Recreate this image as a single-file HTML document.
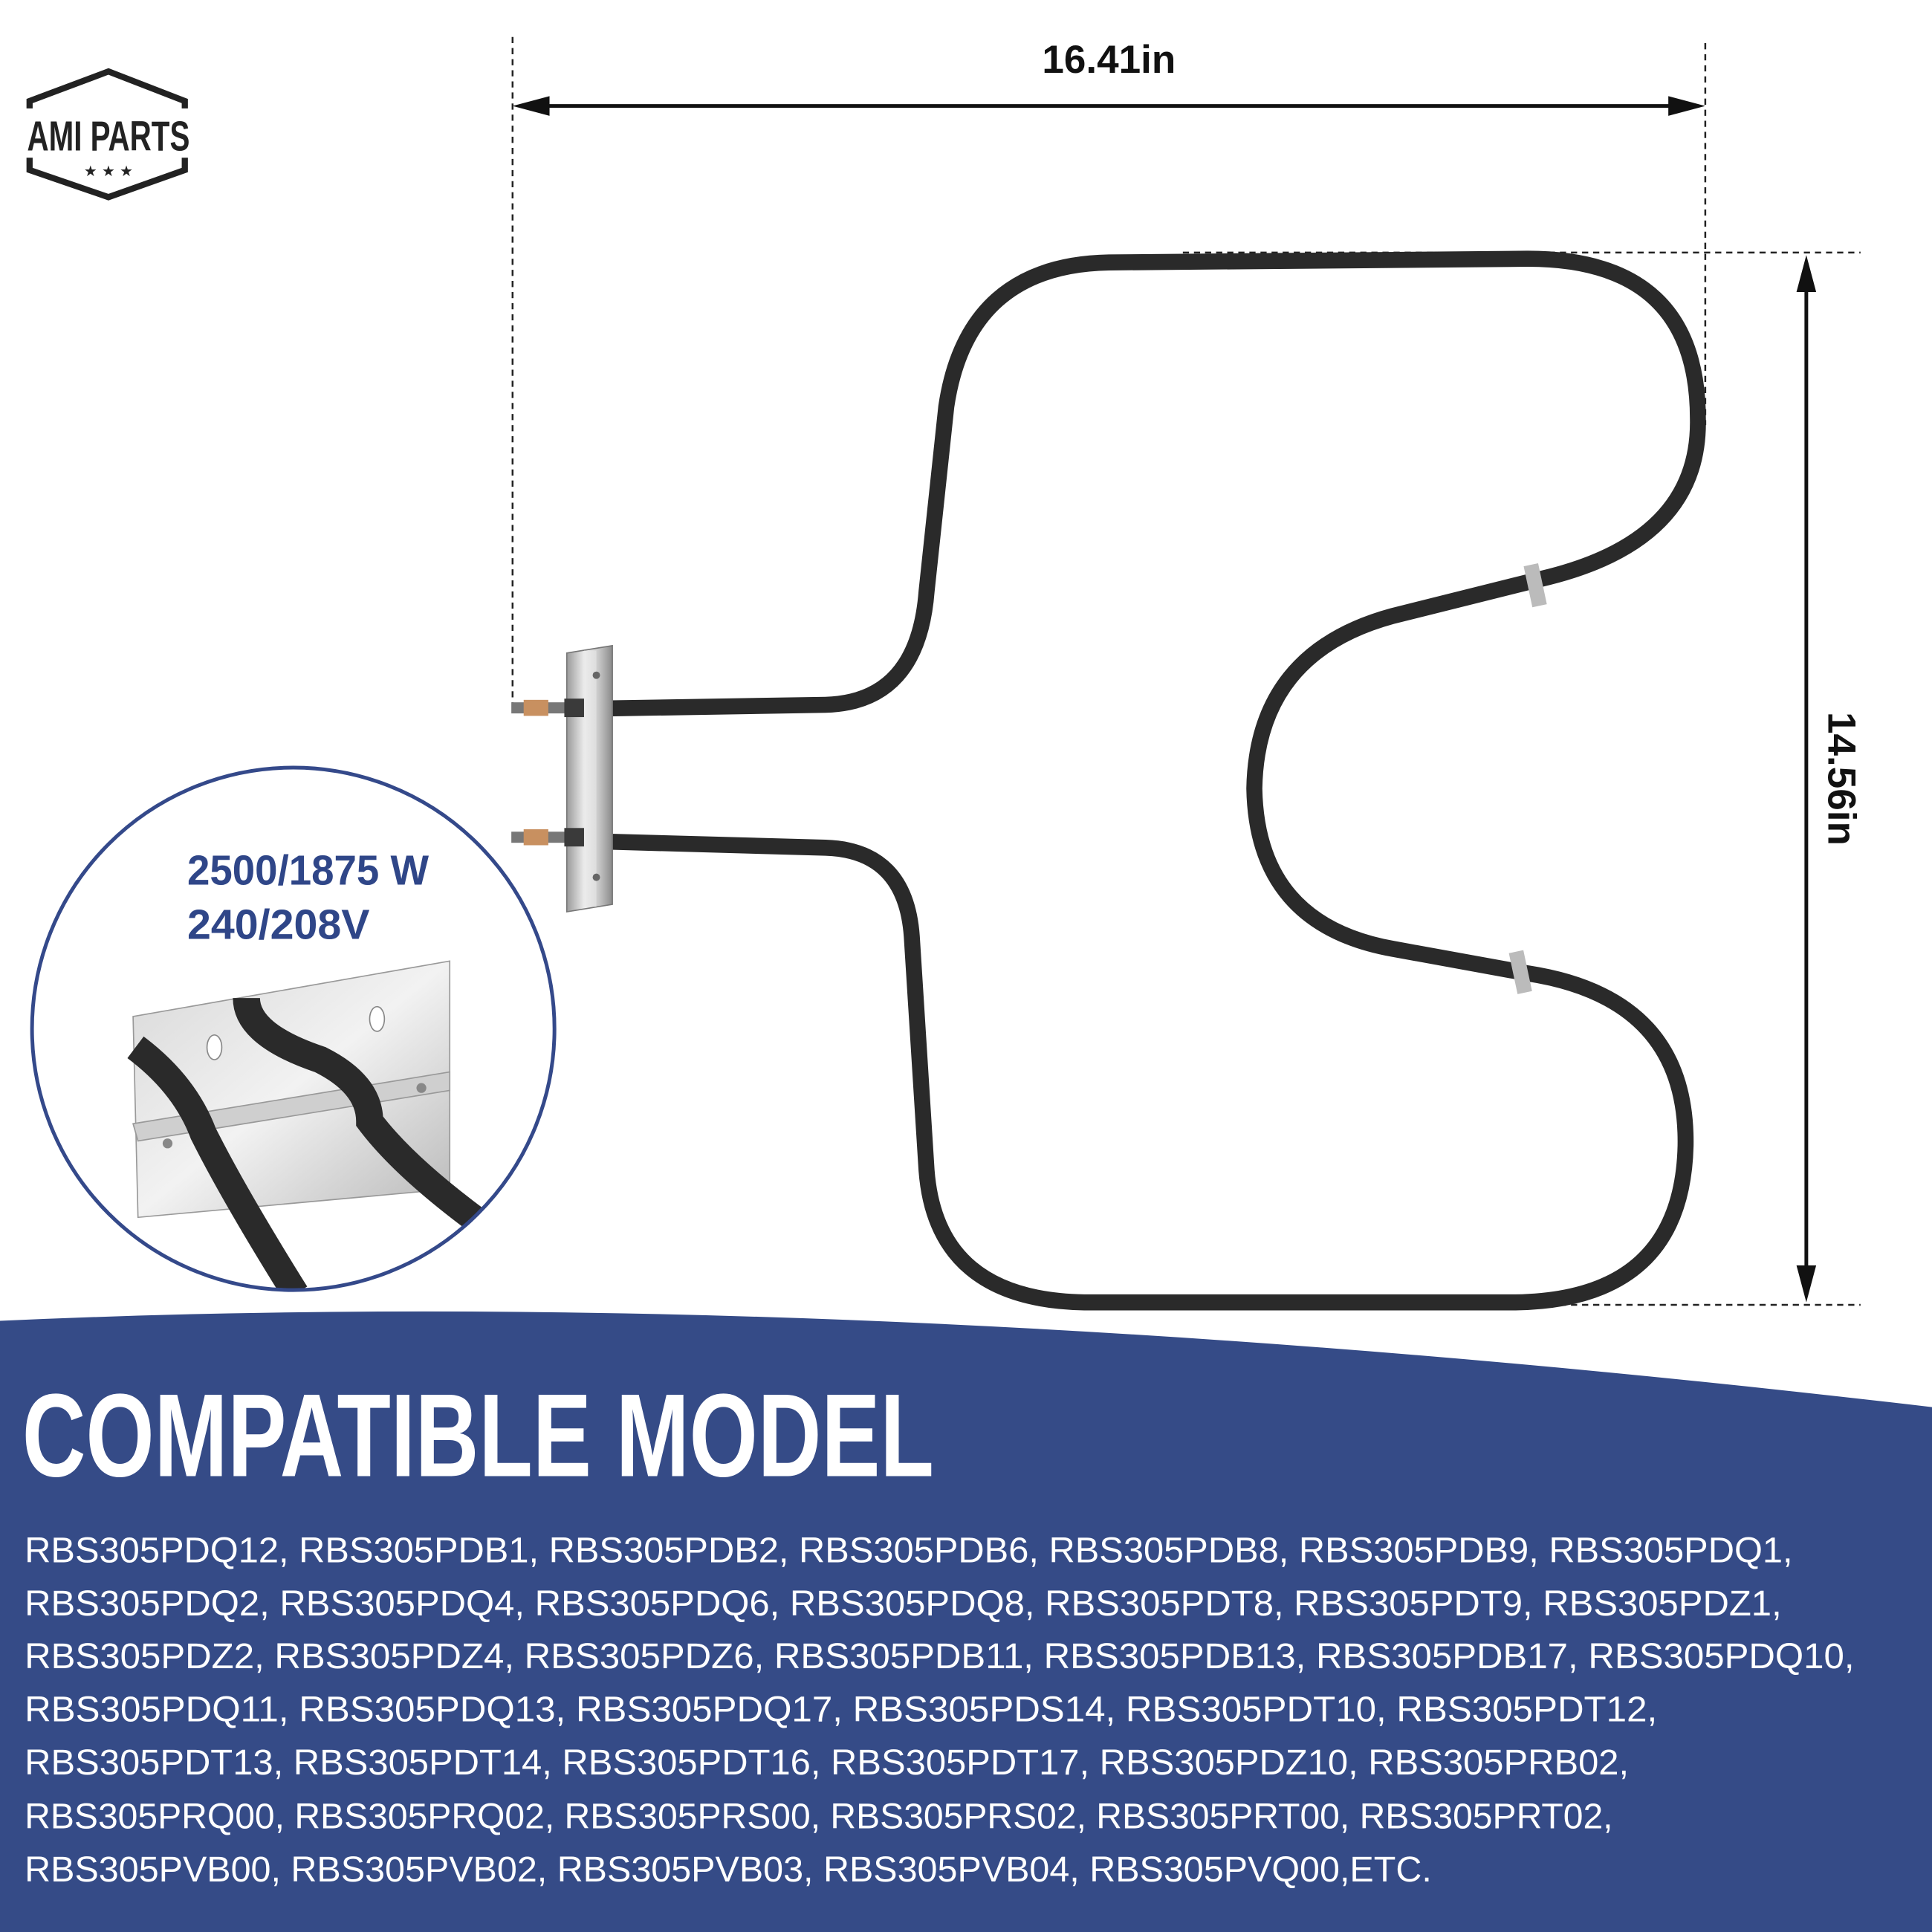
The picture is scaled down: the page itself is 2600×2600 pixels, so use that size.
<!DOCTYPE html>
<html><head><meta charset="utf-8"><style>
html,body{margin:0;padding:0;background:#fff}
svg{display:block}
</style></head><body>
<svg width="2600" height="2600" viewBox="0 0 1568 1568" xmlns="http://www.w3.org/2000/svg">
<defs>
<linearGradient id="steel" x1="0" x2="1" y1="0" y2="0">
<stop offset="0" stop-color="#9a9a9a"/><stop offset="0.4" stop-color="#f0f0f0"/><stop offset="0.7" stop-color="#c8c8c8"/><stop offset="1" stop-color="#8a8a8a"/>
</linearGradient>
<linearGradient id="plate" x1="0" x2="1" y1="0" y2="1">
<stop offset="0" stop-color="#d8d8d8"/><stop offset="0.5" stop-color="#f2f2f2"/><stop offset="1" stop-color="#b8b8b8"/>
</linearGradient>
<clipPath id="cc"><circle cx="238" cy="835" r="212"/></clipPath>
</defs>
<rect width="1568" height="1568" fill="#fff"/>

<!-- logo -->
<g>
<polygon points="88,58 150,82 150,138 88,160 24,138 24,82" fill="none" stroke="#222" stroke-width="5"/>
<rect x="18" y="88" width="140" height="40" fill="#fff"/>
<text x="88" y="122" text-anchor="middle" font-family="Liberation Sans Narrow, Liberation Sans, sans-serif" font-weight="bold" font-size="34" fill="#222" textLength="132" lengthAdjust="spacingAndGlyphs">AMI PARTS</text>
<text x="88" y="143" text-anchor="middle" font-size="12" fill="#222" font-family="DejaVu Sans, sans-serif">★ ★ ★</text>
</g>

<!-- dimension lines -->
<g stroke="#222" stroke-width="1.5" stroke-dasharray="5,4" fill="none">
<line x1="416" y1="30" x2="416" y2="578"/>
<line x1="1384" y1="35" x2="1384" y2="345"/>
<line x1="960" y1="205" x2="1510" y2="205"/>
<line x1="960" y1="1059" x2="1510" y2="1059"/>
</g>
<line x1="430" y1="86" x2="1370" y2="86" stroke="#111" stroke-width="3"/>
<polygon points="416,86 446,78 446,94" fill="#111"/>
<polygon points="1384,86 1354,78 1354,94" fill="#111"/>
<line x1="1466" y1="222" x2="1466" y2="1042" stroke="#111" stroke-width="3"/>
<polygon points="1466,207 1458,237 1474,237" fill="#111"/>
<polygon points="1466,1057 1458,1027 1474,1027" fill="#111"/>
<text x="900" y="59" text-anchor="middle" font-family="Liberation Sans, sans-serif" font-weight="bold" font-size="32" fill="#111">16.41in</text>
<text transform="translate(1484,632) rotate(90)" text-anchor="middle" font-family="Liberation Sans, sans-serif" font-weight="bold" font-size="32" fill="#111">14.56in</text>

<!-- heating element -->
<path d="M490,575 L670,572 Q745,570 752,480 L768,330 Q785,215 900,213 L1240,210 Q1378,210 1378,340 Q1380,440 1250,470 L1130,500 Q1020,530 1018,640 Q1020,750 1130,770 L1240,790 Q1370,810 1368,930 Q1365,1055 1230,1057 L880,1057 Q760,1055 752,950 L740,760 Q735,690 670,688 L490,683" fill="none" stroke="#2a2a2a" stroke-width="13" stroke-linejoin="round"/>
<rect x="1240" y="458" width="12" height="34" fill="#bbb" transform="rotate(-12 1246 475)"/>
<rect x="1228" y="772" width="12" height="34" fill="#bbb" transform="rotate(-12 1234 789)"/>
<!-- bracket -->
<polygon points="460,530 497,524 497,734 460,740" fill="url(#steel)" stroke="#777" stroke-width="1"/>
<rect x="474" y="528" width="10" height="208" fill="#e8e8e8" opacity="0.6"/>
<circle cx="484" cy="548" r="3" fill="#666"/><circle cx="484" cy="712" r="3" fill="#666"/>
<!-- terminals -->
<rect x="415" y="570" width="45" height="9" fill="#777"/>
<rect x="425" y="568" width="20" height="13" fill="#c89060"/>
<rect x="458" y="567" width="16" height="15" fill="#3a3a3a"/>
<rect x="415" y="675" width="45" height="9" fill="#777"/>
<rect x="425" y="673" width="20" height="13" fill="#c89060"/>
<rect x="458" y="672" width="16" height="15" fill="#3a3a3a"/>

<!-- circle inset -->
<g clip-path="url(#cc)">
<polygon points="108,825 365,780 365,965 112,988" fill="url(#plate)" stroke="#999" stroke-width="1"/>
<polygon points="108,912 365,870 365,885 112,926" fill="#cfcfcf" stroke="#999" stroke-width="1"/>
<ellipse cx="174" cy="850" rx="6" ry="10" fill="#fff" stroke="#888"/>
<ellipse cx="306" cy="827" rx="6" ry="10" fill="#fff" stroke="#888"/>
<circle cx="136" cy="928" r="4" fill="#888"/><circle cx="342" cy="883" r="4" fill="#888"/>
<path d="M110,850 Q150,880 165,920 Q190,970 240,1050" stroke="#2a2a2a" stroke-width="22" fill="none"/>
<path d="M200,810 Q200,840 260,860 Q300,880 300,910 Q330,950 400,1000" stroke="#2a2a2a" stroke-width="22" fill="none"/>
</g>
<circle cx="238" cy="835" r="212" fill="none" stroke="#34498a" stroke-width="3"/>
<text x="152" y="718" font-family="Liberation Sans Narrow, Liberation Sans, sans-serif" font-weight="bold" font-size="34" fill="#2f4688" textLength="196" lengthAdjust="spacingAndGlyphs">2500/1875 W</text>
<text x="152" y="762" font-family="Liberation Sans Narrow, Liberation Sans, sans-serif" font-weight="bold" font-size="34" fill="#2f4688" textLength="148" lengthAdjust="spacingAndGlyphs">240/208V</text>

<!-- banner -->
<path d="M0,1072 Q700,1040 1568,1142 L1568,1568 L0,1568 Z" fill="#354b87"/>
<text x="18" y="1198" font-family="Liberation Sans Narrow, Liberation Sans, sans-serif" font-weight="bold" font-size="96" fill="#fff" textLength="740" lengthAdjust="spacingAndGlyphs">COMPATIBLE MODEL</text>
<g font-family="Liberation Sans, sans-serif" font-size="29" fill="#fff">
<text x="20" y="1268" textLength="1435" lengthAdjust="spacingAndGlyphs">RBS305PDQ12, RBS305PDB1, RBS305PDB2, RBS305PDB6, RBS305PDB8, RBS305PDB9, RBS305PDQ1,</text>
<text x="20" y="1311" textLength="1426" lengthAdjust="spacingAndGlyphs">RBS305PDQ2, RBS305PDQ4, RBS305PDQ6, RBS305PDQ8, RBS305PDT8, RBS305PDT9, RBS305PDZ1,</text>
<text x="20" y="1354" textLength="1485" lengthAdjust="spacingAndGlyphs">RBS305PDZ2, RBS305PDZ4, RBS305PDZ6, RBS305PDB11, RBS305PDB13, RBS305PDB17, RBS305PDQ10,</text>
<text x="20" y="1397" textLength="1325" lengthAdjust="spacingAndGlyphs">RBS305PDQ11, RBS305PDQ13, RBS305PDQ17, RBS305PDS14, RBS305PDT10, RBS305PDT12,</text>
<text x="20" y="1440" textLength="1302" lengthAdjust="spacingAndGlyphs">RBS305PDT13, RBS305PDT14, RBS305PDT16, RBS305PDT17, RBS305PDZ10, RBS305PRB02,</text>
<text x="20" y="1484" textLength="1289" lengthAdjust="spacingAndGlyphs">RBS305PRQ00, RBS305PRQ02, RBS305PRS00, RBS305PRS02, RBS305PRT00, RBS305PRT02,</text>
<text x="20" y="1527" textLength="1142" lengthAdjust="spacingAndGlyphs">RBS305PVB00, RBS305PVB02, RBS305PVB03, RBS305PVB04, RBS305PVQ00,ETC.</text>
</g>
</svg>
</body></html>
